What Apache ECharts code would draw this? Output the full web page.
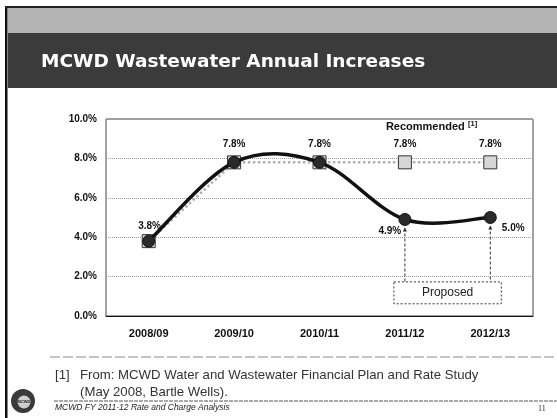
<!DOCTYPE html>
<html><head><meta charset="utf-8">
<script src="https://cdn.jsdelivr.net/npm/echarts@6/dist/echarts.min.js"></script>
<style>html,body{margin:0;padding:0;background:#fff}#c{width:557px;height:418px}</style>
</head><body><div id="c"></div>
<script>
const categories = ['2008/09', '2009/10', '2010/11', '2011/12', '2012/13'];
const proposed = [3.8, 7.8, 7.8, 4.9, 5.0];
const recommended = [3.8, 7.8, 7.8, 7.8, 7.8];
const yTicks = [0, 2, 4, 6, 8, 10];
const titleText = 'MCWD Wastewater Annual Increases';
const footnote1 = 'From: MCWD Water and Wastewater Financial Plan and Rate Study';
const footnote2 = '(May 2008, Bartle Wells).';
const footerText = 'MCWD FY 2011-12 Rate and Charge Analysis';
const pageNo = '11';

const chart = echarts.init(document.getElementById('c'), null, {renderer: 'canvas'});
const lblFont = {fontFamily: 'Arial, Liberation Sans', fontWeight: 'bold', fontSize: 10, color: '#111'};

// Excel-style smoothed curve through the data points (Bezier, tangent = (next - prev) / 6)
function smoothPath(api) {
  const pts = proposed.map((v, i) => api.coord([i, v]));
  let d = 'M' + pts[0][0] + ' ' + pts[0][1];
  for (let i = 0; i < pts.length - 1; i++) {
    const p0 = pts[Math.max(i - 1, 0)], p1 = pts[i], p2 = pts[i + 1], p3 = pts[Math.min(i + 2, pts.length - 1)];
    const c1 = [p1[0] + (p2[0] - p0[0]) / 6, p1[1] + (p2[1] - p0[1]) / 6];
    const c2 = [p2[0] - (p3[0] - p1[0]) / 6, p2[1] - (p3[1] - p1[1]) / 6];
    d += ' C' + c1[0] + ' ' + c1[1] + ' ' + c2[0] + ' ' + c2[1] + ' ' + p2[0] + ' ' + p2[1];
  }
  return d;
}

chart.setOption({
  animation: false,
  backgroundColor: '#fff',
  grid: {left: 106, right: 24, top: 119, bottom: 102, show: true, borderColor: '#444', borderWidth: 1, backgroundColor: 'transparent'},
  xAxis: {
    type: 'category', data: categories, boundaryGap: true,
    axisLine: {lineStyle: {color: '#111', width: 1}},
    axisTick: {show: false},
    axisLabel: {fontFamily: 'Arial, Liberation Sans', fontWeight: 'bold', fontSize: 11, color: '#111', margin: 12}
  },
  yAxis: {
    type: 'value', min: yTicks[0], max: yTicks[yTicks.length - 1], interval: 2,
    axisLine: {show: false}, axisTick: {show: false},
    splitLine: {show: true, lineStyle: {color: '#9a9a9a', type: 'dotted', width: 1}},
    axisLabel: {fontFamily: 'Arial, Liberation Sans', fontWeight: 'bold', fontSize: 10, color: '#111', margin: 9,
      formatter: v => v.toFixed(1) + '%'}
  },
  series: [
    {
      name: 'Recommended', type: 'line', data: recommended, z: 2,
      symbol: 'rect', symbolSize: 13,
      itemStyle: {color: '#d6d6d6', borderColor: '#333', borderWidth: 1},
      lineStyle: {color: '#b0b0b0', width: 2.5, type: 'dotted'},
      label: {show: true, position: 'top', distance: 6, ...lblFont,
        formatter: p => p.dataIndex === 0 ? '' : p.value.toFixed(1) + '%'}
    },
    {
      name: 'ProposedCurve', type: 'custom', data: proposed.map((v, i) => [i, v]), z: 3,
      renderItem: function (params, api) {
        if (params.dataIndex !== 0) return null;
        return {type: 'path', shape: {pathData: smoothPath(api)},
          style: {fill: 'none', stroke: '#111', lineWidth: 3.5}};
      },
      silent: true
    },
    {
      name: 'Proposed', type: 'scatter', data: proposed, z: 4,
      symbol: 'circle', symbolSize: 12,
      itemStyle: {color: '#2a2a2a', borderColor: '#111', borderWidth: 1, opacity: 1},
      label: {show: true, ...lblFont,
        position: 'top',
        formatter: p => [0, 3, 4].includes(p.dataIndex) ? p.value.toFixed(1) + '%' : ''},
      labelLayout: function (params) {
        const i = params.dataIndex;
        const r = params.rect;
        if (i === 0) return {x: r.x - 4, y: r.y - 13};
        if (i === 3) return {x: r.x - 20, y: r.y + 13};
        if (i === 4) return {x: r.x + 18, y: r.y + 12};
        return {};
      }
    }
  ]
});

function px(c, v) { return chart.convertToPixel({xAxisIndex: 0, yAxisIndex: 0}, [c, v]); }
const p3 = px(categories[3], proposed[3]);
const p4 = px(categories[4], proposed[4]);
const boxTop = px(categories[3], 1.73)[1];
const boxBot = px(categories[3], 0.62)[1];
const recPt = px(categories[3], 10);

const dashed = {stroke: '#333', lineWidth: 1, lineDash: [3, 2]};
chart.setOption({
  graphic: [
    // slide left border and top line
    {type: 'rect', shape: {x: 5, y: 7, width: 2.5, height: 411}, style: {fill: '#111'}, z: 10},
    {type: 'rect', shape: {x: 5, y: 6, width: 552, height: 2}, style: {fill: '#222'}, z: 10},
    // header bands
    {type: 'rect', shape: {x: 8, y: 8, width: 549, height: 25}, style: {fill: '#b4b4b4'}, z: 9},
    {type: 'rect', shape: {x: 8, y: 33, width: 549, height: 55}, style: {fill: '#3b3b3b'}, z: 9},
    {type: 'text', x: 41, y: 62, z: 11, style: {text: titleText, fill: '#fff', font: 'bold 18.5px "DejaVu Sans", Verdana, sans-serif', textVerticalAlign: 'middle'}},
    // Recommended label
    {type: 'text', x: recPt[0] - 19, y: recPt[1] + 8, z: 11, style: {
      rich: {a: {fontFamily: 'Arial, Liberation Sans', fontWeight: 'bold', fontSize: 11, fill: '#111'},
             s: {fontFamily: 'Arial, Liberation Sans', fontWeight: 'bold', fontSize: 7.5, fill: '#111', padding: [0, 0, 6, 0]}},
      text: '{a|Recommended} {s|[1]}', textVerticalAlign: 'middle'}},
    // connectors
    {type: 'line', shape: {x1: p3[0], y1: p3[1] + 9, x2: p3[0], y2: boxTop}, style: dashed, z: 5},
    {type: 'line', shape: {x1: p4[0], y1: p4[1] + 9, x2: p4[0], y2: boxTop}, style: dashed, z: 5},
    {type: 'polygon', shape: {points: [[p3[0], p3[1] + 8], [p3[0] - 2, p3[1] + 12], [p3[0] + 2, p3[1] + 12]]}, style: {fill: '#333'}, z: 5},
    {type: 'polygon', shape: {points: [[p4[0], p4[1] + 8], [p4[0] - 2, p4[1] + 12], [p4[0] + 2, p4[1] + 12]]}, style: {fill: '#333'}, z: 5},
    // proposed box
    {type: 'rect', shape: {x: p3[0] - 11, y: boxTop, width: (p4[0] - p3[0]) + 22, height: boxBot - boxTop}, style: {fill: '#fff', stroke: '#333', lineWidth: 1, lineDash: [2, 2]}, z: 6},
    {type: 'text', x: (p3[0] + p4[0]) / 2, y: (boxTop + boxBot) / 2, z: 7, style: {text: 'Proposed', fill: '#222', font: '12px Arial, "Liberation Sans"', textAlign: 'center', textVerticalAlign: 'middle'}},
    // separator under chart
    {type: 'line', shape: {x1: 50, y1: 357, x2: 557, y2: 357}, style: {stroke: '#888', lineWidth: 1, lineDash: [10, 3]}, z: 5},
    // footnote
    {type: 'text', x: 55, y: 375, z: 5, style: {text: '[1]', fill: '#333', font: '13.2px Arial, "Liberation Sans"', textVerticalAlign: 'middle'}},
    {type: 'text', x: 80, y: 375, z: 5, style: {text: footnote1, fill: '#333', font: '13.2px Arial, "Liberation Sans"', textVerticalAlign: 'middle'}},
    {type: 'text', x: 80, y: 392, z: 5, style: {text: footnote2, fill: '#333', font: '13.2px Arial, "Liberation Sans"', textVerticalAlign: 'middle'}},
    // footer
    {type: 'line', shape: {x1: 54, y1: 401, x2: 557, y2: 401}, style: {stroke: '#555', lineWidth: 1, lineDash: [4, 1]}, z: 5},
    {type: 'text', x: 55, y: 408, z: 5, style: {text: footerText, fill: '#222', font: 'italic 8.5px Arial, "Liberation Sans"', textVerticalAlign: 'middle'}},
    {type: 'text', x: 538, y: 409, z: 5, style: {text: pageNo, fill: '#222', font: '8px "Liberation Serif", serif', textVerticalAlign: 'middle'}},
    // logo
    {type: 'circle', shape: {cx: 23, cy: 401, r: 12}, style: {fill: '#3a3a3a'}, z: 5},
    {type: 'circle', shape: {cx: 24, cy: 402, r: 6.5}, style: {fill: '#cfcfcf'}, z: 6},
    {type: 'text', x: 24, y: 402, z: 7, style: {text: 'MCWD', fill: '#222', font: 'bold 4px Arial', textAlign: 'center', textVerticalAlign: 'middle'}}
  ]
});
</script></body></html>
